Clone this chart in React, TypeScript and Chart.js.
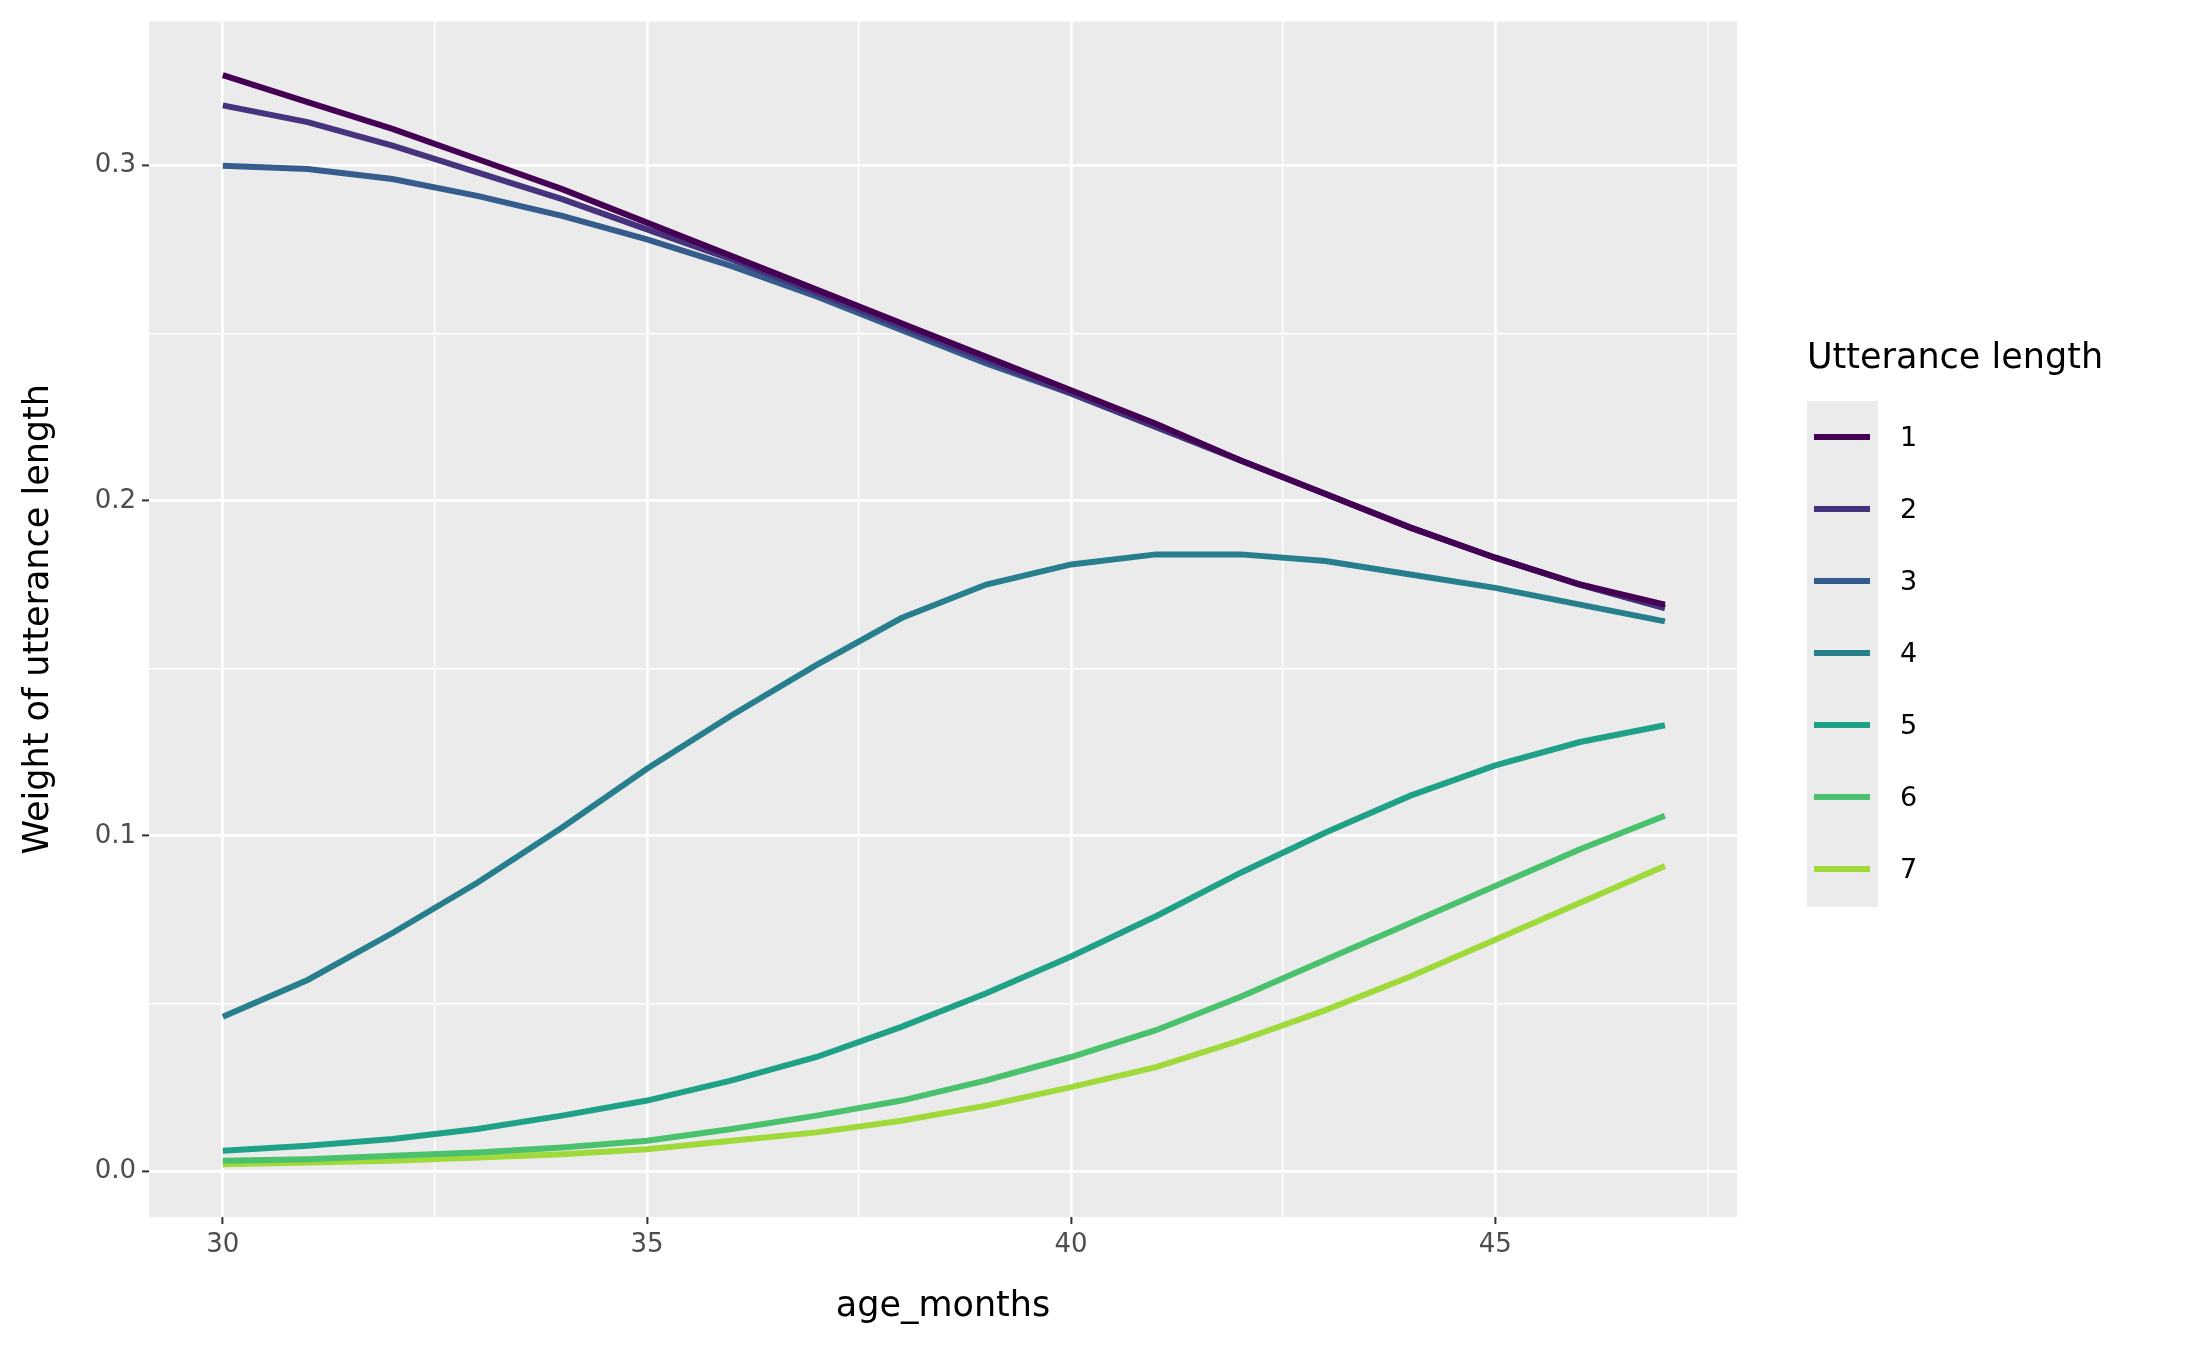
import React, { useEffect, useRef } from "react";
import { Chart, registerables } from "chart.js";
Chart.register(...registerables);

const ages = [30,31,32,33,34,35,36,37,38,39,40,41,42,43,44,45,46,47];
const s1 = [0.327,0.319,0.311,0.302,0.293,0.283,0.273,0.263,0.253,0.243,0.233,0.223,0.212,0.202,0.192,0.183,0.175,0.169];
const s2 = [0.318,0.313,0.306,0.298,0.290,0.281,0.272,0.262,0.252,0.242,0.232,0.222,0.212,0.202,0.192,0.183,0.175,0.168];
const s3 = [0.300,0.299,0.296,0.291,0.285,0.278,0.270,0.261,0.251,0.241,0.232,0.222,0.212,0.202,0.192,0.183,0.175,0.168];
const s4 = [0.046,0.057,0.071,0.086,0.1025,0.120,0.136,0.151,0.165,0.175,0.181,0.184,0.184,0.182,0.178,0.174,0.169,0.164];
const s5 = [0.006,0.0075,0.0095,0.0125,0.0165,0.021,0.027,0.034,0.043,0.053,0.064,0.076,0.089,0.101,0.112,0.121,0.128,0.133];
const s6 = [0.003,0.0035,0.0045,0.0055,0.007,0.009,0.0125,0.0165,0.021,0.027,0.034,0.042,0.052,0.063,0.074,0.085,0.096,0.106];
const s7 = [0.002,0.0025,0.003,0.004,0.005,0.0065,0.009,0.0115,0.015,0.0195,0.025,0.031,0.039,0.048,0.058,0.069,0.080,0.091];
const seriesLabels = ["1","2","3","4","5","6","7"];
const colors = ["#440154","#46337E","#365C8D","#277F8E","#1FA187","#4AC16D","#9FDA3A"];
const xTicks = [30,32.5,35,37.5,40,42.5,45,47.5];
const yTicks = [0,0.05,0.1,0.15,0.2,0.25,0.3];

const FONT = "'DejaVu Sans', sans-serif";

export default function App() {
  const ref = useRef<HTMLCanvasElement>(null);
  useEffect(() => {
    const all = [s1,s2,s3,s4,s5,s6,s7];
    const bg = {
      id: "bg",
      beforeDraw(c: any) {
        const a = c.chartArea; const ctx = c.ctx;
        ctx.save(); ctx.fillStyle = "#EBEBEB";
        ctx.fillRect(a.left, a.top, a.right - a.left, a.bottom - a.top);
        ctx.restore();
      },
    };
    const isMajorX = (v: number) => v % 5 === 0;
    const isMajorY = (v: number) => Math.abs(Math.round(v * 10) - v * 10) < 1e-6;
    const chart = new Chart(ref.current!, {
      type: "line",
      data: {
        datasets: all.map((s, i) => ({
          label: seriesLabels[i],
          data: ages.map((a, j) => ({ x: a, y: s[j] })),
          borderColor: colors[i],
          borderWidth: 6,
          pointRadius: 0,
          tension: 0,
        })),
      },
      plugins: [bg],
      options: {
        animation: false,
        responsive: false,
        devicePixelRatio: 1,
        layout: { padding: { top: 21, right: 451, left: 0, bottom: 0 } },
        plugins: { legend: { display: false }, tooltip: { enabled: false } },
        scales: {
          x: {
            type: "linear", min: 29.13, max: 47.85,
            afterBuildTicks: (s: any) => { s.ticks = xTicks.map((v) => ({ value: v })); },
            afterFit: (s: any) => { s.height = 135; },
            border: { display: false },
            grid: {
              color: "#FFFFFF",
              lineWidth: (c: any) => (isMajorX(c.tick?.value) ? 2.8 : 1.4),
              tickColor: (c: any) => (isMajorX(c.tick?.value) ? "#333333" : "rgba(0,0,0,0)"),
              tickLength: 7, tickWidth: 2,
            },
            ticks: {
              autoSkip: false, maxRotation: 0, color: "#4D4D4D", padding: 6,
              font: { family: FONT, size: 26 },
              callback: (v: any) => (isMajorX(Number(v)) ? String(v) : ""),
            },
            title: { display: true, text: "age_months", color: "#000", font: { family: FONT, size: 35 }, padding: { top: 4, bottom: 24 } },
          },
          y: {
            type: "linear", min: -0.01375, max: 0.343,
            afterBuildTicks: (s: any) => { s.ticks = yTicks.map((v) => ({ value: v })); },
            afterFit: (s: any) => { s.width = 149; },
            border: { display: false },
            grid: {
              color: "#FFFFFF",
              lineWidth: (c: any) => (isMajorY(c.tick?.value) ? 2.8 : 1.4),
              tickColor: (c: any) => (isMajorY(c.tick?.value) ? "#333333" : "rgba(0,0,0,0)"),
              tickLength: 7, tickWidth: 2,
            },
            ticks: {
              autoSkip: false, color: "#4D4D4D", padding: 6,
              font: { family: FONT, size: 26 },
              callback: (v: any) => (isMajorY(Number(v)) ? Number(v).toFixed(1) : ""),
            },
            title: { display: true, text: "Weight of utterance length", color: "#000", font: { family: FONT, size: 35 }, padding: { top: 18, bottom: 4 } },
          },
        },
      } as any,
    });
    return () => chart.destroy();
  }, []);

  return (
    <div style={{ position: "absolute", left: 0, top: 0, width: 2188, height: 1352, background: "#fff", fontFamily: FONT, overflow: "hidden" }}>
      <canvas ref={ref} width={2188} height={1352} style={{ position: "absolute", left: 0, top: 0 }} />
      <div style={{ position: "absolute", left: 1807, top: 336, fontSize: 35, color: "#000", whiteSpace: "nowrap" }}>Utterance length</div>
      <div style={{ position: "absolute", left: 1807, top: 401, width: 71, height: 506, background: "#EBEBEB" }} />
      {seriesLabels.map((l, i) => (
        <React.Fragment key={l}>
          <div style={{ position: "absolute", left: 1814, top: 437 + i * 72 - 3, width: 56, height: 6, background: colors[i] }} />
          <div style={{ position: "absolute", left: 1900, top: 437 + i * 72 - 16, fontSize: 27, color: "#000", lineHeight: "32px" }}>{l}</div>
        </React.Fragment>
      ))}
    </div>
  );
}
